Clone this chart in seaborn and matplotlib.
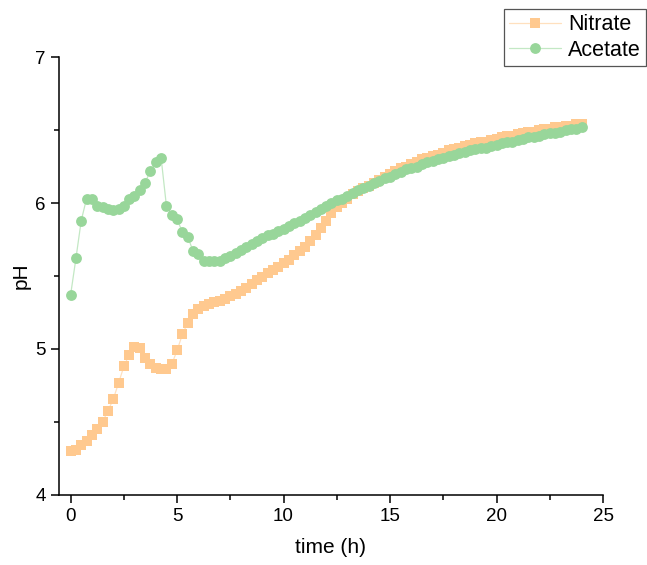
import numpy as np
import pandas as pd
import matplotlib
matplotlib.use("Agg")
import matplotlib.pyplot as plt
import seaborn as sns
from matplotlib.ticker import MultipleLocator

# sampling every 15 min, 0 - 24 h
time_h = [i * 0.25 for i in range(97)]

nitrate_ph = [
    4.30, 4.31, 4.34, 4.37, 4.41, 4.45, 4.50, 4.575, 4.655, 4.765,
    4.88, 4.96, 5.015, 5.01, 4.94, 4.895, 4.87, 4.86, 4.86, 4.895,
    4.99, 5.10, 5.18, 5.24, 5.275, 5.295, 5.305, 5.32, 5.33, 5.34,
    5.36, 5.38, 5.40, 5.42, 5.445, 5.47, 5.495, 5.52, 5.54, 5.565,
    5.59, 5.61, 5.645, 5.67, 5.70, 5.74, 5.78, 5.83, 5.88, 5.93,
    5.97, 6.00, 6.03, 6.06, 6.08, 6.10, 6.12, 6.14, 6.16, 6.18,
    6.20, 6.22, 6.24, 6.25, 6.27, 6.28, 6.30, 6.31, 6.32, 6.33,
    6.34, 6.36, 6.37, 6.38, 6.39, 6.40, 6.41, 6.42, 6.42, 6.43,
    6.44, 6.45, 6.46, 6.46, 6.47, 6.48, 6.49, 6.49, 6.50, 6.51,
    6.51, 6.52, 6.52, 6.53, 6.53, 6.54, 6.54,
]

acetate_ph = [
    5.37, 5.62, 5.88, 6.03, 6.03, 5.98, 5.97, 5.96, 5.95, 5.96,
    5.98, 6.03, 6.05, 6.09, 6.14, 6.22, 6.28, 6.31, 5.98, 5.92,
    5.89, 5.80, 5.77, 5.67, 5.65, 5.60, 5.60, 5.60, 5.60, 5.62,
    5.64, 5.66, 5.68, 5.70, 5.72, 5.74, 5.76, 5.78, 5.79, 5.81,
    5.82, 5.84, 5.86, 5.88, 5.90, 5.92, 5.94, 5.96, 5.98, 6.00,
    6.02, 6.03, 6.05, 6.07, 6.09, 6.10, 6.12, 6.14, 6.15, 6.17,
    6.18, 6.20, 6.21, 6.23, 6.24, 6.25, 6.27, 6.28, 6.29, 6.30,
    6.31, 6.32, 6.33, 6.34, 6.35, 6.36, 6.37, 6.38, 6.38, 6.39,
    6.40, 6.41, 6.42, 6.42, 6.43, 6.44, 6.45, 6.45, 6.46, 6.47,
    6.48, 6.48, 6.49, 6.50, 6.51, 6.51, 6.52,
]

series_names = ["Nitrate", "Acetate"]
marker_colors = {"Nitrate": "#FFC98F", "Acetate": "#98D69A"}
line_colors = {"Nitrate": "#FFE0BE", "Acetate": "#C3E8C4"}

df = pd.DataFrame({
    "time": time_h * 2,
    "pH": nitrate_ph + acetate_ph,
    "series": ["Nitrate"] * len(time_h) + ["Acetate"] * len(time_h),
})

sns.set_style("ticks")
plt.rcParams["font.family"] = ["Liberation Sans", "DejaVu Sans"]
plt.rcParams["text.color"] = "black"
plt.rcParams["axes.labelcolor"] = "black"
plt.rcParams["xtick.color"] = "black"
plt.rcParams["ytick.color"] = "black"

fig = plt.figure(figsize=(6.47, 5.65), dpi=100)
ax = fig.add_axes([0.091, 0.124, 0.841, 0.775])

sns.lineplot(data=df, x="time", y="pH", hue="series", style="series",
             markers={"Nitrate": "s", "Acetate": "o"}, dashes=False,
             palette=marker_colors, linewidth=0.9, markersize=7.8,
             markeredgewidth=0, sort=False, legend=False, ax=ax)

# origin-like look: pale connecting line, solid markers
for ln, name in zip(ax.get_lines(), series_names):
    ln.set_markerfacecolor(marker_colors[name])
    ln.set_markeredgecolor(marker_colors[name])
    ln.set_color(line_colors[name])

ax.set_xlim(-0.55, 25)
ax.set_ylim(4, 7)
ax.xaxis.set_major_locator(MultipleLocator(5))
ax.xaxis.set_minor_locator(MultipleLocator(2.5))
ax.yaxis.set_major_locator(MultipleLocator(1))
ax.yaxis.set_minor_locator(MultipleLocator(0.5))
ax.tick_params(which="major", direction="out", length=6, width=1.1, labelsize=13.5,
               color="black", labelcolor="black")
ax.tick_params(which="minor", direction="out", length=3.5, width=1.1, color="black")
for s in ["top", "right"]:
    ax.spines[s].set_visible(False)
for s in ["left", "bottom"]:
    ax.spines[s].set_linewidth(1.1)
    ax.spines[s].set_color("black")

ax.set_xlabel("time (h)", fontsize=15, labelpad=9, color="black")
ax.set_ylabel("pH", fontsize=15, labelpad=3, color="black")

leg = ax.legend(handles=ax.get_lines()[:2], labels=series_names,
                loc="upper right", bbox_to_anchor=(0.999, 0.984),
                bbox_transform=fig.transFigure, fontsize=15.5,
                frameon=True, fancybox=False, edgecolor="#555555",
                framealpha=1, handlelength=2.4, borderpad=0.25,
                labelspacing=0.2, handletextpad=0.35, borderaxespad=0)
leg.get_frame().set_linewidth(0.9)
for t in leg.get_texts():
    t.set_color("black")

fig.savefig("out.png", dpi=100)
